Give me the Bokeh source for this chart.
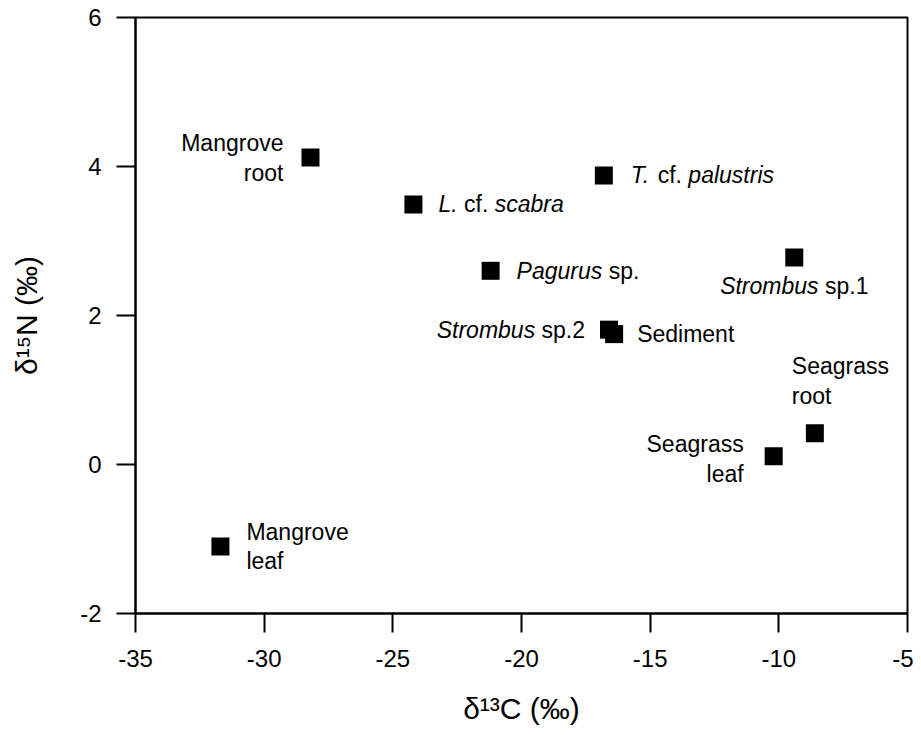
from bokeh.plotting import figure
from bokeh.models import ColumnDataSource, Range1d, FixedTicker
from bokeh.core.properties import value
from bokeh.embed import file_html
from bokeh.resources import INLINE

# ---------------- data ----------------
sample_names = ["Mangrove root", "L. cf. scabra", "T. cf. palustris", "Pagurus sp.",
                "Strombus sp.1", "Strombus sp.2", "Sediment", "Seagrass root",
                "Seagrass leaf", "Mangrove leaf"]
d13C = [-28.2, -24.2, -16.8, -21.2, -9.4, -16.6, -16.4, -8.6, -10.2, -31.7]
d15N = [4.12, 3.49, 3.88, 2.60, 2.78, 1.81, 1.75, 0.42, 0.11, -1.10]
x_ticks = [-35, -30, -25, -20, -15, -10, -5]
x_tick_labels = ["-35", "-30", "-25", "-20", "-15", "-10", "-5"]
y_ticks = [-2, 0, 2, 4, 6]
y_tick_labels = ["-2", "0", "2", "4", "6"]
x_label = "δ¹³C (‰)"
y_label = "δ¹⁵N (‰)"

# label words, with italic flag
label_segments = [
    [("Mangrove\nroot", False)],
    [("L.", True), ("cf.", False), ("scabra", True)],
    [("T.", True), ("cf.", False), ("palustris", True)],
    [("Pagurus", True), ("sp.", False)],
    [("Strombus", True), ("sp.1", False)],
    [("Strombus", True), ("sp.2", False)],
    [("Sediment", False)],
    [("Seagrass\nroot", False)],
    [("Seagrass\nleaf", False)],
    [("Mangrove\nleaf", False)],
]

# ---------------- layout / style ----------------
FONT = "Liberation Sans"
LABEL_PX = 23
# label placement: (dx px, dy px (down +), anchor)
placement = [(-27, 0, "right"), (25, 0, "left"), (27, 0, "left"), (26, 0, "left"),
             (0, 29, "center"), (-24, 0, "right"), (23, 0, "left"), (-23, -52, "left"),
             (-30, 3, "right"), (26, 0, "left")]

ADV = {' ': 278, '.': 278, '1': 556, '2': 556, 'L': 556, 'T': 611, 'S': 667, 'P': 667,
       'M': 833, 'a': 556, 'b': 556, 'c': 500, 'd': 556, 'e': 556, 'f': 278, 'g': 556,
       'i': 222, 'l': 222, 'm': 833, 'n': 556, 'o': 556, 'p': 556, 'r': 333, 's': 500,
       't': 278, 'u': 556, 'v': 500}


def text_width(s, px):
    return sum(ADV.get(ch, 556) for ch in s) * px / 1000.0


p = figure(width=913, height=727,
           x_range=Range1d(x_ticks[0], x_ticks[-1]), y_range=Range1d(y_ticks[0], y_ticks[-1]),
           output_backend="svg", toolbar_location=None,
           min_border_left=135, min_border_right=6, min_border_top=17, min_border_bottom=114)
p.background_fill_color = "white"
p.border_fill_color = "white"
p.grid.visible = False
p.outline_line_color = "black"
p.outline_line_width = 2

for ax, ticks, tlabs, lab in ((p.xaxis[0], x_ticks, x_tick_labels, x_label),
                              (p.yaxis[0], y_ticks, y_tick_labels, y_label)):
    ax.ticker = FixedTicker(ticks=ticks)
    ax.major_label_overrides = {t: s for t, s in zip(ticks, tlabs)}
    ax.axis_label = lab
    ax.axis_label_text_font = FONT
    ax.axis_label_text_font_style = "normal"
    ax.axis_label_text_font_size = "30px"
    ax.axis_label_text_color = "black"
    ax.major_label_text_font = FONT
    ax.major_label_text_font_size = "24px"
    ax.major_label_text_color = "black"
    ax.axis_line_color = "black"
    ax.axis_line_width = 2
    ax.major_tick_line_color = "black"
    ax.major_tick_line_width = 2
    ax.major_tick_in = 0
    ax.major_tick_out = 19
    ax.minor_tick_line_color = None
    ax.major_label_standoff = 15
p.xaxis.major_label_standoff = 17
p.xaxis.axis_label_standoff = 22
p.yaxis.axis_label_standoff = 34
p.yaxis.major_label_orientation = "horizontal"

src = ColumnDataSource(dict(x=d13C, y=d15N, name=sample_names))
p.scatter(x="x", y="y", source=src, marker="square", size=18,
          fill_color="black", line_color="black", line_width=0)

# build label pieces
groups = {}
space = text_width(" ", LABEL_PX)
for i, segs in enumerate(label_segments):
    dx, dy, anchor = placement[i]
    if len(segs) == 1:
        key = (anchor, segs[0][1])
        g = groups.setdefault(key, dict(x=[], y=[], text=[], xo=[], yo=[]))
        g["x"].append(d13C[i]); g["y"].append(d15N[i]); g["text"].append(segs[0][0])
        g["xo"].append(dx); g["yo"].append(dy)
        continue
    widths = [text_width(s, LABEL_PX) for s, _ in segs]
    total = sum(widths) + space * (len(segs) - 1)
    if anchor == "left":
        cur = dx
    elif anchor == "right":
        cur = dx - total
    else:
        cur = dx - total / 2.0
    for (s, it), w in zip(segs, widths):
        key = ("left", it)
        g = groups.setdefault(key, dict(x=[], y=[], text=[], xo=[], yo=[]))
        g["x"].append(d13C[i]); g["y"].append(d15N[i]); g["text"].append(s)
        g["xo"].append(cur); g["yo"].append(dy)
        cur += w + space

for (align, italic), g in groups.items():
    p.text(x="x", y="y", text="text", x_offset="xo", y_offset="yo",
           source=ColumnDataSource(g), text_align=align, text_baseline="middle",
           text_font=value(FONT), text_font_size="23px",
           text_font_style="italic" if italic else "normal",
           text_color="black", text_line_height=1.15)

open("out.html", "w").write(file_html(p, INLINE))
